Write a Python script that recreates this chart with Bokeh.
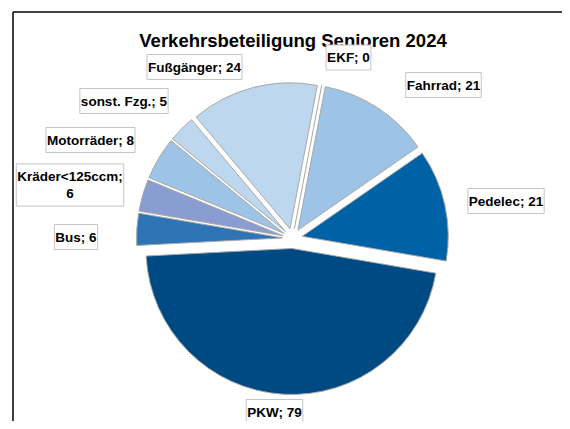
import math
from bokeh.plotting import figure
from bokeh.models import ColumnDataSource, Label, Range1d
from bokeh.embed import file_html
from bokeh.resources import INLINE

# ---- data (clockwise from the top) ----
categories = ["EKF", "Fahrrad", "Pedelec", "PKW", "Bus", "Kräder<125ccm",
              "Motorräder", "sonst. Fzg.", "Fußgänger"]
values = [0, 21, 21, 79, 6, 6, 8, 5, 24]
colors = ["#DEEBF7", "#9DC3E6", "#0062A6", "#004A84", "#2E74B5", "#8A9DD3",
          "#9DC3E6", "#BDD7EE", "#BDD7EE"]
title_text = "Verkehrsbeteiligung Senioren 2024"

# ---- layout (picture pixels) ----
W, H = 562, 421
def dx(px):
    return px
def dy(py):
    return H - py

CX, CY = dx(292), dy(238)
R = 146
EXPLODE = 10
START_DEG = 79.2
label_pos = [(348, 57), (443, 84.5), (505.5, 200.5), (274, 411.5), (75.5, 236.5),
             (69.5, 184.5), (90, 139.5), (123.5, 100.5), (194, 66.5)]

total = sum(values)
xs, ys, starts, ends, cols = [], [], [], [], []
seg = dict(x0=[], y0=[], x1=[], y1=[])
a = math.radians(START_DEG)
for v, c in zip(values, colors):
    sweep = 2 * math.pi * v / total
    a_end = a - sweep
    mid = (a + a_end) / 2
    ox = CX + EXPLODE * math.cos(mid)
    oy = CY + EXPLODE * math.sin(mid)
    if v > 0:
        xs.append(ox); ys.append(oy)
        starts.append(a_end); ends.append(a); cols.append(c)
    else:
        seg["x0"].append(ox); seg["y0"].append(oy)
        seg["x1"].append(ox + R * math.cos(mid)); seg["y1"].append(oy + R * math.sin(mid))
    a = a_end

p = figure(width=W, height=H, x_range=Range1d(0, W), y_range=Range1d(0, H),
           output_backend="svg", toolbar_location=None, min_border=0,
           x_axis_location=None, y_axis_location=None, outline_line_color=None,
           background_fill_color="white", border_fill_color="white")
p.grid.grid_line_color = None

# chart area border: top-left corner, the rest runs off the picture
bx, by = dx(12.5), dy(11.5)
p.segment(x0=[bx, bx], y0=[by, by], x1=[W + 20, bx], y1=[by, -20],
          line_color="black", line_width=1.5)

src = ColumnDataSource(dict(x=xs, y=ys, start=starts, end=ends, color=cols))
p.wedge(x="x", y="y", radius=R, start_angle="start", end_angle="end",
        direction="anticlock", fill_color="color", line_color="#A8A8A8",
        line_width=1, source=src)
p.segment(x0="x0", y0="y0", x1="x1", y1="y1", line_color="#A8A8A8",
          line_width=1, source=ColumnDataSource(seg))

# title
p.add_layout(Label(x=dx(292.5), y=dy(39.5), text=title_text, text_align="center",
                   text_baseline="alphabetic", text_font="Liberation Sans",
                   text_font_style="bold", text_font_size="18.5px", text_color="black"))

for cat, v, (lx, ly) in zip(categories, values, label_pos):
    sep = ";\n" if cat.startswith("Kräder") else "; "
    p.add_layout(Label(x=dx(lx), y=dy(ly), text=f"{cat}{sep}{v}", text_align="center",
                       text_baseline="middle", text_font="Liberation Sans",
                       text_font_style="bold", text_font_size="13.5px", text_color="black",
                       text_line_height=1.15,
                       background_fill_color="white", border_line_color="#C4C4C4",
                       border_line_width=1, padding=(1, 5)))

open("out.html", "w").write(file_html(p, INLINE))
